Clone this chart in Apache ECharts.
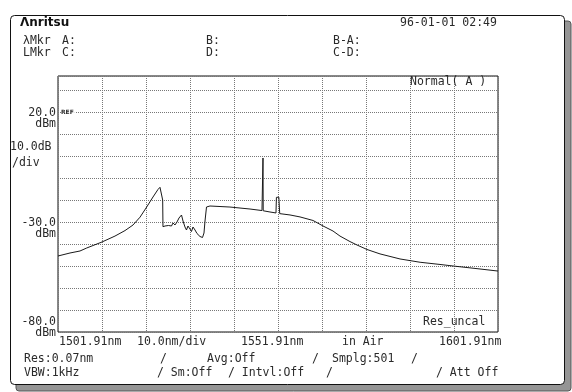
<!DOCTYPE html>
<html>
<head>
<meta charset="utf-8">
<script src="https://cdn.jsdelivr.net/npm/echarts@6/dist/echarts.min.js"></script>
<style>
  html, body { margin: 0; padding: 0; background: #fff; }
  #main { width: 572px; height: 392px; }
</style>
</head>
<body>
<div id="main"></div>
<script>
// Optical spectrum trace: wavelength (nm) and level (dBm)
const wavelengthNm = [
  1501.91, 1504.64, 1506.91, 1508.43, 1511.91, 1514.86, 1517.14, 1518.96, 1520.55, 1522.07,
  1523.50, 1524.64, 1525.09, 1525.50, 1525.70, 1525.77, 1526.23, 1526.68, 1527.02, 1527.36,
  1527.70, 1528.05, 1528.50, 1528.95, 1529.41, 1529.98, 1530.32, 1530.77, 1531.11, 1531.45,
  1531.91, 1532.25, 1532.59, 1533.05, 1533.50, 1534.18, 1534.75, 1535.09, 1535.32, 1535.66,
  1536.45, 1541.00, 1545.55, 1548.27, 1548.45, 1548.50, 1548.55, 1548.73, 1550.09, 1551.45,
  1551.55, 1551.60, 1552.10, 1552.20, 1552.30, 1552.59, 1554.64, 1556.91, 1559.86, 1562.14,
  1564.41, 1566.00, 1568.27, 1569.86, 1572.14, 1575.09, 1579.64, 1584.20, 1588.73, 1591.68,
  1596.23, 1601.91
];
const levelDbm = [
  -45.45, -44.09, -43.18, -41.82, -39.09, -36.40, -33.90, -31.36, -27.80, -23.18,
  -18.64, -15.20, -14.23, -15.00, -20.00, -32.14, -31.82, -31.14, -31.59, -30.91,
  -31.82, -30.45, -31.36, -30.00, -28.18, -26.82, -29.55, -32.27, -33.64, -31.82,
  -33.18, -34.32, -32.27, -33.64, -35.23, -36.59, -37.05, -35.00, -29.55, -23.18,
  -22.73, -23.20, -24.10, -24.80, -24.90, -0.90, -24.90, -25.00, -25.45, -25.90,
  -18.80, -18.60, -18.70, -19.00, -26.20, -26.60, -26.80, -27.70, -29.30, -31.80,
  -34.10, -36.40, -38.90, -40.45, -42.50, -44.50, -46.80, -48.30, -49.30, -50.00,
  -51.00, -52.30
];

// Scale settings
const xStart = 1501.91, xStop = 1601.91, xDiv = 10;
const yBottom = -80, yDiv = 10, yTop = 36.36;

// Level scale labels
const levelTicks = [20, -30, -80];
const levelTickText = ['20.0', '-30.0', '-80.0'];

// Wavelength row texts
const wlRow = ['1501.91nm', '10.0nm/div', '1551.91nm', 'in Air', '1601.91nm'];

const FONT = '"DejaVu Sans Mono", "Liberation Mono", monospace';
const INK = '#2a2a2a';

const chart = echarts.init(document.getElementById('main'), null, { renderer: 'canvas' });

const traceData = wavelengthNm.map((w, i) => [w, levelDbm[i]]);

chart.setOption({
  animation: false,
  backgroundColor: '#fff',
  grid: {
    left: 58, top: 76, width: 440, height: 256,
    show: true, borderColor: '#111', borderWidth: 1, backgroundColor: 'transparent'
  },
  xAxis: {
    type: 'value', min: xStart, max: xStop, interval: xDiv,
    axisLine: { show: false }, axisTick: { show: false }, axisLabel: { show: false },
    splitLine: { show: true, lineStyle: { color: '#777', width: 1, type: [1, 1] } }
  },
  yAxis: {
    type: 'value', min: yBottom, max: yTop, interval: yDiv,
    axisLine: { show: false }, axisTick: { show: false }, axisLabel: { show: false },
    splitLine: { show: true, lineStyle: { color: '#777', width: 1, type: [1, 1] } }
  },
  series: [{
    type: 'line',
    data: traceData,
    showSymbol: false,
    smooth: false,
    lineStyle: { color: '#1a1a1a', width: 1 },
    z: 5
  }]
});

function txt(x, y, s, opt) {
  opt = opt || {};
  return {
    type: 'text', x: x, y: y, z: 20,
    style: Object.assign({
      text: s, fill: INK, font: (opt.size || 11.5) + 'px ' + FONT,
      textAlign: opt.align || 'left', textVerticalAlign: 'middle'
    }, opt.style || {})
  };
}

const py = v => chart.convertToPixel({ yAxisIndex: 0 }, v);

const g = [];
// Panel shadow and panel frame
g.push({ type: 'rect', z: -10, shape: { x: 16, y: 21, width: 555, height: 370, r: 3 },
  style: { fill: '#959595', stroke: '#555', lineWidth: 1 } });
g.push({ type: 'rect', z: -9, shape: { x: 10.5, y: 15.5, width: 554, height: 369, r: 4 },
  style: { fill: '#fff', stroke: '#111', lineWidth: 1 } });

// Header
g.push(txt(20, 23, 'Λnritsu', { style: { font: 'bold 12px "DejaVu Sans", sans-serif', fill: '#111' } }));
g.push(txt(400, 23, '96-01-01 02:49'));
g.push(txt(23, 41.5, 'λMkr'));
g.push(txt(62, 41.5, 'A:'));
g.push(txt(206, 41.5, 'B:'));
g.push(txt(333, 41.5, 'B-A:'));
g.push(txt(23, 53, 'LMkr'));
g.push(txt(62, 53, 'C:'));
g.push(txt(206, 53, 'D:'));
g.push(txt(333, 53, 'C-D:'));

// Trace mode tags
g.push(txt(410, 82, 'Normal( A )'));
g.push(txt(423, 322, 'Res_uncal'));

// Level scale
levelTicks.forEach((v, i) => {
  let y = py(v);
  if (i === levelTicks.length - 1) y -= 11;
  g.push(txt(56, y + 1, levelTickText[i], { align: 'right' }));
  g.push(txt(56, y + 12, 'dBm', { align: 'right' }));
});
g.push(txt(10, 147, '10.0dB'));
g.push(txt(12, 163, '/div'));
g.push({ type: 'text', x: 61, y: py(20), z: 20,
  style: { text: 'REF', fill: INK, font: 'bold 6px "DejaVu Sans", sans-serif',
    textVerticalAlign: 'middle', backgroundColor: '#fff', padding: [1, 1, 1, 0] } });

// Wavelength row
const wlX = [59, 137, 241, 342, 439];
wlRow.forEach((s, i) => g.push(txt(wlX[i], 342, s)));

// Condition rows
g.push(txt(24, 359, 'Res:0.07nm'));
g.push(txt(160, 359, '/'));
g.push(txt(207, 359, 'Avg:Off'));
g.push(txt(312, 359, '/'));
g.push(txt(332, 359, 'Smplg:501'));
g.push(txt(411, 359, '/'));
g.push(txt(24, 373, 'VBW:1kHz'));
g.push(txt(157, 373, '/ Sm:Off'));
g.push(txt(228, 373, '/ Intvl:Off'));
g.push(txt(326, 373, '/'));
g.push(txt(436, 373, '/ Att Off'));

chart.setOption({ graphic: g });
</script>
</body>
</html>
